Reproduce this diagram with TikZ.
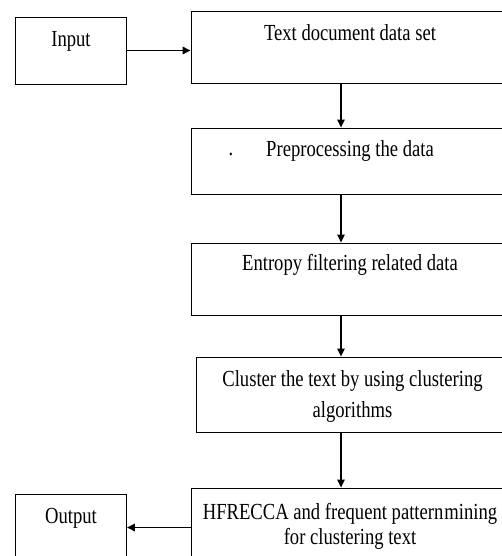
\documentclass[tikz,border=0pt]{standalone}
\usepackage{fontspec}
\setmainfont{Liberation Serif}[FakeStretch=0.81]
\usetikzlibrary{arrows.meta, positioning}

\begin{document}
\begin{tikzpicture}[
    x=1pt, y=-1pt,
    box/.style={draw, line width=0.9pt, minimum width=318pt, inner sep=0pt},
    sidebox/.style={draw, line width=0.9pt, minimum width=111pt, minimum height=67pt, inner sep=0pt},
    boxtext/.style={anchor=north, inner sep=0pt, align=center, font=\fontsize{23}{31}\selectfont},
    arrow/.style={-{Triangle[length=8pt, width=7.5pt]}, line width=1.1pt},
    sidearrow/.style={arrow, line width=1.6pt}
]
    \useasboundingbox (0,0) rectangle (502,556);
    \clip (0,0) rectangle (502,556);

    % Main boxes
    \node[box, minimum height=72pt] (textdoc) at (350,47) {};
    \node[box, minimum height=66pt] (prep) at (350,161) {};
    \node[box, minimum height=72pt] (entropy) at (350,279) {};
    \node[box, minimum width=313pt, minimum height=75pt] (cluster) at (352.5,394.5) {};
    \node[box, minimum height=76pt] (hfrecca) at (350,526) {};

    % Input and output
    \node[sidebox] (input) at (71,50.5) {};
    \node[sidebox] (output) at (71,527.5) {};

    % Box texts
    \node[boxtext, below=14pt of textdoc.north] (textdoclabel) {Text document data set};
    \node[boxtext, below=13pt of prep.north] (preplabel) {Preprocessing the data};
    \node[inner sep=0pt, font=\fontsize{23}{31}\selectfont] (prepdot) at (231,154) {.};
    \node[boxtext, below=12pt of entropy.north] (entropylabel) {Entropy filtering related data};
    \node[boxtext, below=14pt of cluster.north] (clusterlabel) {Cluster the text by using clustering\\algorithms};
    \node[boxtext, font=\fontsize{23}{25}\selectfont, below=16pt of hfrecca.north] (hfreccalabel) {HFRECCA and frequent pattern\hspace{1pt}mining\\for clustering text};
    \node[boxtext, below=15pt of input.north] (inputlabel) {Input};
    \node[boxtext, below=15pt of output.north] (outputlabel) {Output};

    % Arrows
    \coordinate (spine) at (341,0);
    \draw[sidearrow] (input.east) -- (input.east -| textdoc.west);
    \draw[arrow] (textdoc.south -| spine) -- (prep.north -| spine);
    \draw[arrow] (prep.south -| spine) -- (entropy.north -| spine);
    \draw[arrow] (entropy.south -| spine) -- (cluster.north -| spine);
    \draw[arrow] (cluster.south -| spine) -- (hfrecca.north -| spine);
    \draw[sidearrow] (output.east -| hfrecca.west) -- (output.east);
\end{tikzpicture}
\end{document}
